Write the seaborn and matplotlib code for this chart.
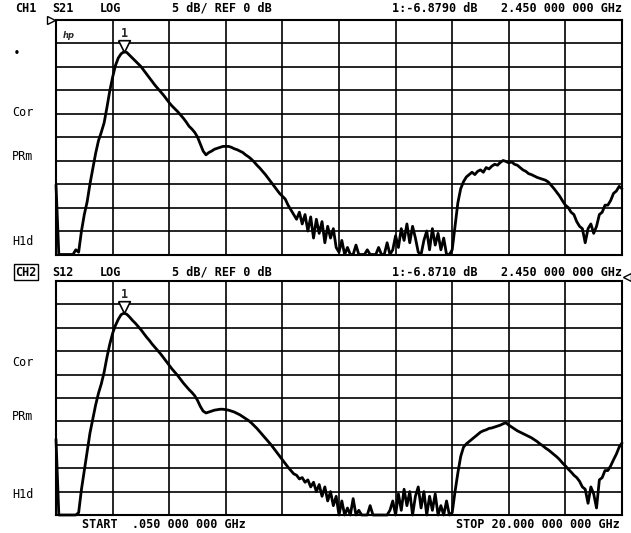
import numpy as np
import pandas as pd
import matplotlib
matplotlib.use("Agg")
import matplotlib.pyplot as plt
import seaborn as sns

# Sweep: 201 points, 0.05 to 20 GHz
START_GHZ = 0.05
STOP_GHZ = 20.0
N_POINTS = 201
freq_ghz = np.linspace(START_GHZ, STOP_GHZ, N_POINTS)

# CH1 S21 magnitude (dB)
s21_db = [
    -35.2, -50, -50, -50, -50, -50, -50, -49, -49.5, -45.0,
    -41.5, -38.8, -35.0, -31.8, -28.5, -25.8, -24.0, -22.0, -18.7, -15.2,
    -12.3, -9.8, -8.2, -7.3, -6.879, -7.0, -7.6, -8.2, -8.8, -9.4,
    -10.0, -10.8, -11.6, -12.4, -13.2, -14.0, -14.7, -15.4, -16.1, -16.9,
    -17.7, -18.4, -19.0, -19.6, -20.3, -21.0, -21.8, -22.7, -23.3, -24.0,
    -25.0, -26.5, -28.0, -28.8, -28.3, -28.0, -27.6, -27.4, -27.2, -27.0,
    -27.0, -27.0, -27.2, -27.5, -27.7, -28.0, -28.3, -28.8, -29.2, -29.7,
    -30.3, -31.0, -31.6, -32.3, -33.0, -33.8, -34.6, -35.4, -36.2, -37.0,
    -37.6, -38.2, -39.5, -40.5, -41.5, -42.5, -41.0, -43.5, -41.5, -45.0,
    -42.0, -46.5, -42.5, -45.5, -43.0, -47.5, -44.0, -46.5, -44.5, -48.5,
    -49.5, -47.0, -50, -48.5, -50, -50, -48.0, -50, -50, -50,
    -49.0, -50, -50, -50, -48.5, -50, -50, -47.5, -50, -49.0,
    -46.0, -48.5, -44.5, -47.0, -43.5, -47.5, -44.0, -46.5, -49.5, -50,
    -47.0, -45.0, -49.0, -44.5, -48.0, -45.5, -49.0, -46.5, -50, -50,
    -49.0, -44.0, -39.0, -36.0, -34.5, -33.5, -33.0, -32.5, -33.0, -32.3,
    -32.0, -32.5, -31.5, -31.8, -31.2, -30.8, -31.0, -30.4, -30.0, -30.2,
    -30.5, -30.3, -30.8, -31.0, -31.5, -32.0, -32.3, -32.8, -33.0, -33.3,
    -33.6, -33.8, -34.0, -34.2, -34.6, -35.3, -36.0, -36.8, -37.6, -38.6,
    -39.5, -40.0, -41.0, -41.5, -43.0, -44.0, -44.5, -47.5, -44.5, -43.5,
    -45.5, -44.0, -41.5, -41.0, -39.5, -39.5, -38.5, -37.0, -36.5, -35.5,
    -36.0,
]

# CH2 S12 magnitude (dB)
s12_db = [
    -33.8, -50, -50, -50, -50, -50, -50, -50, -49.5, -44.5,
    -40.5, -36.5, -32.5, -29.5, -26.5, -24.0, -22.0, -19.5, -16.3, -13.5,
    -11.2, -9.5, -8.2, -7.2, -6.871, -7.1, -7.7, -8.4, -9.0, -9.7,
    -10.4, -11.2, -12.0, -12.7, -13.5, -14.2, -14.9, -15.6, -16.4, -17.2,
    -18.0, -18.8, -19.5, -20.2, -21.0, -21.8, -22.5, -23.2, -23.8, -24.5,
    -25.5, -26.8, -27.8, -28.2, -28.0, -27.8, -27.6, -27.5, -27.4, -27.4,
    -27.5, -27.6, -27.8, -28.0, -28.3, -28.6, -29.0, -29.4, -29.8, -30.3,
    -30.9, -31.5, -32.2, -32.9, -33.6, -34.3, -35.0, -35.8, -36.6, -37.4,
    -38.2, -39.0, -39.8, -40.5, -41.2, -41.5, -42.3, -42.0, -43.0, -42.5,
    -44.0, -43.0, -45.0, -43.5, -46.0, -44.0, -47.0, -45.0, -48.0, -46.0,
    -50, -47.0, -50, -48.5, -50, -46.5, -50, -49.0, -50, -50,
    -50, -48.0, -50, -50, -50, -50, -50, -50, -49.0, -47.0,
    -50, -45.5, -49.0, -44.5, -48.0, -45.0, -50, -46.0, -44.0, -48.5,
    -45.0, -50, -46.0, -49.0, -45.5, -50, -48.0, -50, -47.0, -50,
    -49.5, -45.0, -41.0, -37.5, -35.5, -34.8, -34.3, -33.8, -33.3, -32.8,
    -32.3, -32.0, -31.8, -31.5, -31.4, -31.2, -31.0, -30.8, -30.5, -30.3,
    -30.8, -31.2, -31.6, -32.0, -32.3, -32.6, -32.9, -33.2, -33.5, -33.9,
    -34.3, -34.8, -35.2, -35.7, -36.1, -36.6, -37.1, -37.6, -38.2, -38.9,
    -39.5, -40.2, -40.8, -41.5, -42.0, -42.8, -44.0, -44.5, -47.5, -44.0,
    -45.5, -48.5, -42.5, -42.0, -40.5, -40.5, -39.5, -38.2, -37.0, -35.5,
    -34.6,
]

# Display settings
REF_DB = 0.0
DB_PER_DIV = 5.0
N_DIV = 10
MARKER_GHZ = 2.45
ch1_header = ["CH1", "S21", "LOG", "5 dB/ REF 0 dB", "1:-6.8790 dB", "2.450 000 000 GHz"]
ch2_header = ["CH2", "S12", "LOG", "5 dB/ REF 0 dB", "1:-6.8710 dB", "2.450 000 000 GHz"]
side_labels = ["Cor", "PRm", "H1d"]
start_label = "START  .050 000 000 GHz"
stop_label = "STOP 20.000 000 000 GHz"

W, H = 631, 533
sns.set_style("white")
plt.rcParams["font.family"] = ["DejaVu Sans Mono", "DejaVu Sans"]

fig = plt.figure(figsize=(W / 100, H / 100), dpi=100)
fig.patch.set_facecolor("white")


def px_axes(left, top, right, bottom):
    return fig.add_axes([left / W, 1 - bottom / H, (right - left) / W, (bottom - top) / H])


def ftext(x, y, s, ha="left", size=8.5, weight="bold", **kw):
    return fig.text(x / W, 1 - y / H, s, ha=ha, va="center", size=size,
                    fontweight=weight, color="black", **kw)


def draw_panel(ax, values, marker_db):
    df = pd.DataFrame({"GHz": freq_ghz, "dB": values})
    sns.lineplot(data=df, x="GHz", y="dB", ax=ax, color="black", lw=2.0,
                 estimator=None, sort=False, clip_on=False, zorder=3)
    ax.set_xlim(START_GHZ, STOP_GHZ)
    ax.set_ylim(REF_DB - N_DIV * DB_PER_DIV, REF_DB)
    ax.set_xticks(np.linspace(START_GHZ, STOP_GHZ, N_DIV + 1))
    ax.set_yticks(np.arange(REF_DB - N_DIV * DB_PER_DIV, REF_DB + 0.1, DB_PER_DIV))
    ax.grid(True, color="black", lw=1.2)
    ax.tick_params(length=0, labelbottom=False, labelleft=False)
    ax.set_xlabel("")
    ax.set_ylabel("")
    for sp in ax.spines.values():
        sp.set_visible(True)
        sp.set_color("black")
        sp.set_linewidth(1.5)
    # marker 1: open downward triangle with its apex on the trace
    tri = matplotlib.path.Path([(-1, 2), (1, 2), (0, 0), (-1, 2)])
    ax.plot([MARKER_GHZ], [marker_db], marker=tri, ms=17, mfc="white",
            mec="black", mew=1.2, ls="none", zorder=5, clip_on=False)
    ax.annotate("1", (MARKER_GHZ, marker_db), xytext=(0, 8.5), textcoords="offset points",
                ha="center", va="bottom", size=8.5, fontweight="bold", zorder=6)


# CH1 panel
ax1 = px_axes(56, 19.5, 622, 254.5)
draw_panel(ax1, s21_db, s21_db[24])
ax1.plot([-0.009], [1.0], marker=">", ms=6, mfc="white", mec="black", mew=1.0,
         transform=ax1.transAxes, clip_on=False)
ax1.text(0.012, 0.93, "hp", transform=ax1.transAxes, size=6, style="italic",
         fontweight="bold", ha="left", va="center", family="DejaVu Sans")

# CH2 panel
ax2 = px_axes(56, 281, 622, 515)
draw_panel(ax2, s12_db, s12_db[24])
ax2.plot([1.008], [1.017], marker="<", ms=6, mfc="white", mec="black", mew=1.0,
         transform=ax2.transAxes, clip_on=False)

# Channel header lines
hx = [15, 52, 100, 172, 392, 622]
for y, items in ((8, ch1_header), (272, ch2_header)):
    for i, (x, s) in enumerate(zip(hx, items)):
        ha = "right" if i == len(items) - 1 else "left"
        t = ftext(x, y, s, ha=ha)
        if y == 272 and i == 0:
            t.set_bbox(dict(boxstyle="square,pad=0.12", fc="white", ec="black", lw=1.0))

# Left-side softkey labels
ftext(14, 53, "\u2022", size=7)
for y, s in zip((113, 157, 242), side_labels):
    ftext(12, y, s, weight="normal")
for y, s in zip((362, 417, 494), side_labels):
    ftext(12, y, s, weight="normal")

# Sweep limits
ftext(82, 524, start_label)
ftext(620, 524, stop_label, ha="right")

fig.savefig("out.png", dpi=100, facecolor="white")
